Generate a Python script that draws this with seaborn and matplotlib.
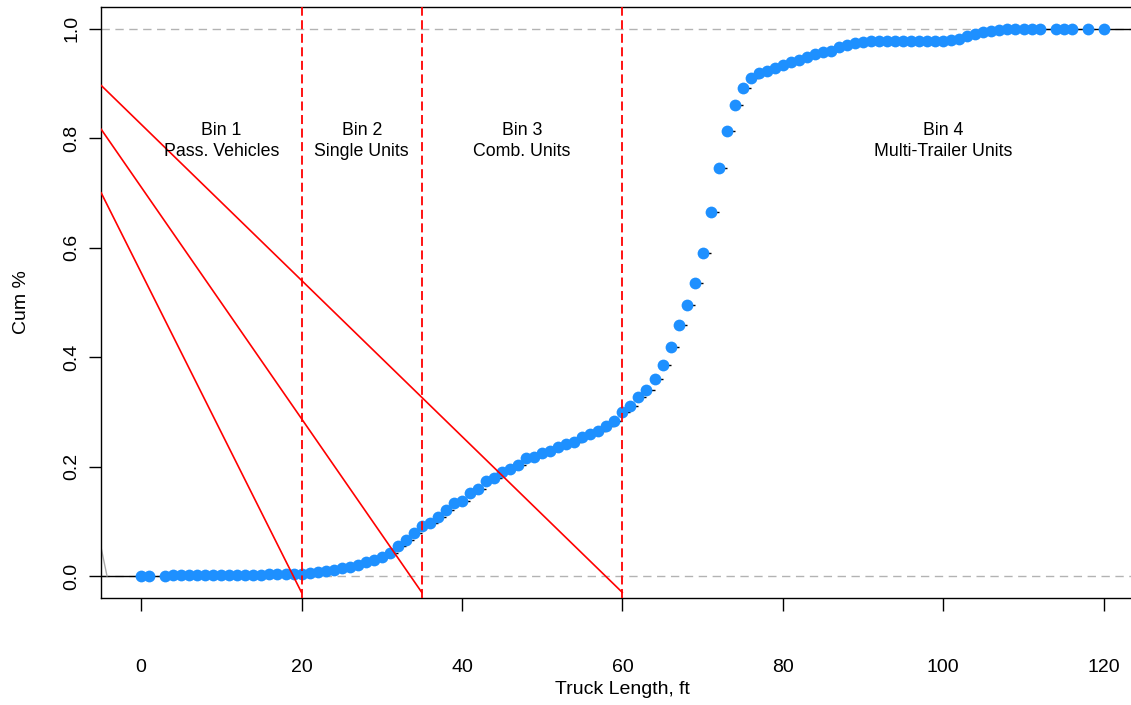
import matplotlib
matplotlib.use("Agg")
import matplotlib.pyplot as plt
import seaborn as sns
import pandas as pd

# Empirical cumulative distribution of truck lengths (ft)
truck_length = [
    0, 1, 3, 4, 5, 6, 7, 8, 9, 10, 11, 12, 13, 14, 15, 16, 17, 18, 19, 20,
    21, 22, 23, 24, 25, 26, 27, 28, 29, 30, 31, 32, 33, 34, 35, 36, 37, 38, 39, 40,
    41, 42, 43, 44, 45, 46, 47, 48, 49, 50, 51, 52, 53, 54, 55, 56, 57, 58, 59, 60,
    61, 62, 63, 64, 65, 66, 67, 68, 69, 70, 71, 72, 73, 74, 75, 76, 77, 78, 79, 80,
    81, 82, 83, 84, 85, 86, 87, 88, 89, 90, 91, 92, 93, 94, 95, 96, 97, 98, 99, 100,
    101, 102, 103, 104, 105, 106, 107, 108, 109, 110, 111, 112, 114, 115, 116, 118, 120,
]
cum_share = [
    0.0004, 0.0008, 0.0010, 0.0012, 0.0013, 0.0014, 0.0015, 0.0016, 0.0017, 0.0018,
    0.0019, 0.0020, 0.0021, 0.0023, 0.0028, 0.0032, 0.0035, 0.0037, 0.0040, 0.0043,
    0.005, 0.007, 0.009, 0.012, 0.014, 0.017, 0.021, 0.026, 0.030, 0.035,
    0.043, 0.055, 0.066, 0.079, 0.092, 0.097, 0.108, 0.121, 0.134, 0.138,
    0.152, 0.159, 0.174, 0.179, 0.190, 0.196, 0.203, 0.216, 0.218, 0.225,
    0.229, 0.236, 0.242, 0.245, 0.255, 0.260, 0.266, 0.275, 0.284, 0.299,
    0.311, 0.327, 0.341, 0.360, 0.385, 0.419, 0.458, 0.496, 0.535, 0.590,
    0.665, 0.745, 0.813, 0.861, 0.892, 0.910, 0.919, 0.923, 0.929, 0.934,
    0.940, 0.943, 0.949, 0.954, 0.958, 0.960, 0.967, 0.971, 0.974, 0.976,
    0.977, 0.978, 0.978, 0.978, 0.978, 0.978, 0.978, 0.978, 0.978, 0.978,
    0.979, 0.981, 0.987, 0.991, 0.995, 0.997, 0.9985, 0.9992, 0.9995, 0.9997,
    0.9998, 0.99985, 0.9999, 0.99993, 0.99996, 0.99998, 1.0,
]

# Bin boundaries and labels
bin_edges = [20, 35, 60]
bin_centers = [10, 27.5, 47.5, 100]
bin_labels = [
    "Bin 1\nPass. Vehicles",
    "Bin 2\nSingle Units",
    "Bin 3\nComb. Units",
    "Bin 4\nMulti-Trailer Units",
]
# Sloped guide lines: value at the left edge, each running down to a bin edge
guide_start = [0.701, 0.817, 0.897]
guide_end = -0.03

x_ticks = [0, 20, 40, 60, 80, 100, 120]
y_ticks = [0.0, 0.2, 0.4, 0.6, 0.8, 1.0]
y_ticklabels = ["0.0", "0.2", "0.4", "0.6", "0.8", "1.0"]

sns.set_style("ticks")
plt.rcParams["font.family"] = ["Liberation Sans", "DejaVu Sans"]
plt.rcParams["text.color"] = "black"
plt.rcParams["axes.labelcolor"] = "black"
plt.rcParams["xtick.color"] = "black"
plt.rcParams["ytick.color"] = "black"

df = pd.DataFrame({"length": truck_length, "cum": cum_share})

fig = plt.figure(figsize=(11.31, 7.05), dpi=100)
ax = fig.add_axes([101 / 1131, 107 / 705, 1 - 101 / 1131, 591 / 705])

x_left, x_right = -5.0, 123.4
ax.set_xlim(x_left, x_right)
ax.set_ylim(-0.04, 1.04)

# reference lines at 0 and 1
for h in (0, 1):
    ax.axhline(h, color="#B3B3B3", lw=1.0, ls=(0, (6, 4)), zorder=1)

# step segments of the ECDF
xs = df["length"].tolist()
ys = df["cum"].tolist()
seg_x0 = [x_left] + xs
seg_x1 = xs + [x_right]
seg_y = [0.0] + ys
ax.hlines(seg_y, seg_x0, seg_x1, color="black", lw=1.0, zorder=2)

# small grey trace at the lower left
ax.plot([x_left, -4.25], [0.053, 0.0], color="#AAAAAA", lw=1.0, zorder=2)

sns.scatterplot(data=df, x="length", y="cum", color="#1E90FF", s=72,
                linewidth=0, ax=ax, zorder=3)

# bin boundaries and guide lines
for e in bin_edges:
    ax.axvline(e, color="red", lw=1.3, ls=(0, (5, 2.5)), zorder=4)
for y0, e in zip(guide_start, bin_edges):
    ax.plot([x_left, e], [y0, guide_end], color="red", lw=1.2, zorder=4)

for cx, lab in zip(bin_centers, bin_labels):
    ax.text(cx, 0.795, lab, ha="center", va="center", fontsize=12.8,
            linespacing=1.33, color="black", zorder=5)

ax.set_xticks(x_ticks)
ax.set_yticks(y_ticks)
ax.set_yticklabels(y_ticklabels, rotation=90, va="center")
ax.tick_params(axis="x", length=9, width=1, labelsize=14, pad=35, color="black",
               labelcolor="black")
ax.tick_params(axis="y", length=9, width=1, labelsize=14, pad=6, color="black",
               labelcolor="black")

for s in ("left", "bottom", "top"):
    ax.spines[s].set_color("black")
    ax.spines[s].set_linewidth(1.0)
ax.spines["right"].set_visible(False)

ax.set_xlabel("Truck Length, ft", fontsize=14, color="black")
ax.set_ylabel("Cum %", fontsize=14, color="black")
ax.xaxis.set_label_coords((622 - 101) / 1030, -(690 - 598) / 591)
ax.yaxis.set_label_coords(-(101 - 21) / 1030, 0.5)
ax.xaxis.label.set_va("center")
ax.yaxis.label.set_va("center")

fig.savefig("out.png", dpi=100)
